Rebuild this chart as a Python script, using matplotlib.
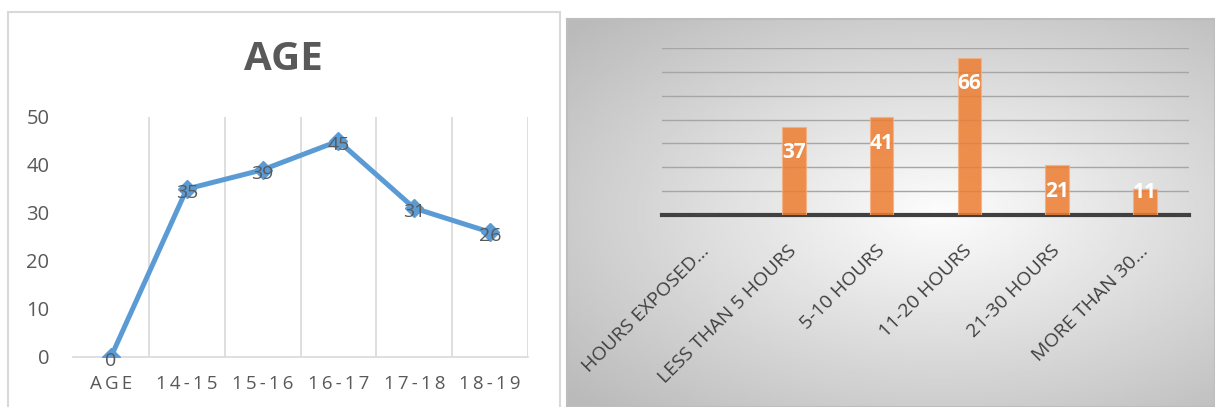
import matplotlib.pyplot as plt
import numpy as np
from matplotlib.patches import Rectangle

plt.rcParams['font.family'] = ['Open Sans', 'DejaVu Sans']

# Left chart: AGE
age_groups = ["AGE", "14-15", "15-16", "16-17", "17-18", "18-19"]
age_counts = [0, 35, 39, 45, 31, 26]

# Right chart: hours exposed
hour_groups = ["HOURS EXPOSED...", "LESS THAN 5 HOURS", "5-10 HOURS",
               "11-20 HOURS", "21-30 HOURS", "MORE THAN 30..."]
hour_counts = [0, 37, 41, 66, 21, 11]

W, H = 1215, 407
fig = plt.figure(figsize=(W / 100, H / 100), dpi=100)


def fx(px):
    return px / W


def fy(py):
    return 1 - py / H


# frame of the left chart
fig.patches.append(Rectangle((fx(8), fy(420)), fx(552), (420 - 12) / H,
                             transform=fig.transFigure, fill=False,
                             edgecolor="#d9d9d9", linewidth=1.5))

# gradient panel behind the right chart
bg = fig.add_axes([fx(567), 0, fx(W - 567), fy(19)])
gx, gy = np.meshgrid(np.linspace(-1, 1, 300), np.linspace(-1, 1, 200))
r = np.sqrt(((gx - 0.15) / 1.1) ** 2 + ((gy + 0.0) / 1.0) ** 2)
shade = 0.99 - 0.26 * np.clip(r, 0, 1.4) / 1.4
bg.imshow(shade, cmap="gray", vmin=0, vmax=1, aspect="auto",
          extent=[0, 1, 0, 1])
bg.set_xticks([])
bg.set_yticks([])
for s in bg.spines.values():
    s.set_color("#bdbdbd")
    s.set_linewidth(1.5)

# ---- left: line chart ----
ax = fig.add_axes([fx(73), fy(357), fx(528 - 73), (357 - 117) / H])
x = np.arange(len(age_groups))
ax.plot(x, age_counts, color="#5b9bd5", linewidth=3.6, marker="D",
        markersize=9, zorder=3)
for xi, v in zip(x, age_counts):
    ax.text(xi, v - 0.8, str(v), ha="center", va="center", fontsize=14,
            color="#595959", zorder=4)
ax.set_xlim(-0.5, len(age_groups) - 0.5)
ax.set_ylim(0, 50)
ax.set_yticks(range(0, 51, 10))
ax.set_xticks(x)
ax.set_xticklabels(["\u2009".join(g) for g in age_groups])
ax.set_xticks(np.arange(0.5, len(age_groups), 1), minor=True)
ax.grid(True, which="minor", axis="x", color="#d9d9d9", linewidth=1.2)
ax.tick_params(axis="both", which="both", length=0, colors="#595959")
ax.tick_params(axis="y", pad=17, labelsize=14.5)
ax.tick_params(axis="x", pad=13, labelsize=13.5)
for name in ["top", "right", "left"]:
    ax.spines[name].set_visible(False)
ax.spines["bottom"].set_color("#d9d9d9")
ax.spines["bottom"].set_linewidth(1.2)
fig.text(fx(283), fy(60), "AGE", ha="center", va="center",
         fontsize=29, fontweight="bold", color="#595959")

# ---- right: bar chart ----
ax2 = fig.add_axes([fx(662), fy(215), fx(1189 - 662), (215 - 48) / H])
ax2.patch.set_alpha(0)
xb = np.arange(len(hour_groups))
ax2.bar(xb, hour_counts, width=0.27, color="#ed7d31", alpha=0.85,
        edgecolor="#f4b183", linewidth=0.8, zorder=3)
for xi, v in zip(xb, hour_counts):
    if v == 0:
        continue
    ly = v - 11 if v - 11 >= 10 else v - 1.5
    ax2.text(xi, ly, str(v), ha="center", va="center", fontsize=15,
             fontweight="bold", color="white", zorder=4)
ax2.set_xlim(-0.5, len(hour_groups) - 0.5)
ax2.set_ylim(0, 70)
ax2.set_yticks(range(10, 71, 10))
ax2.yaxis.grid(True, color="#a6a6a6", linewidth=1)
ax2.set_axisbelow(True)
ax2.set_yticklabels([])
ax2.set_xticks(xb)
ax2.set_xticklabels(hour_groups, rotation=45, ha="right", va="center",
                    rotation_mode="anchor", fontsize=14, color="#404040")
ax2.tick_params(axis="both", length=0)
ax2.tick_params(axis="x", pad=24)
for name in ["top", "right", "left"]:
    ax2.spines[name].set_visible(False)
ax2.spines["bottom"].set_color("#404040")
ax2.spines["bottom"].set_linewidth(3)

fig.savefig("out.png", dpi=100)
